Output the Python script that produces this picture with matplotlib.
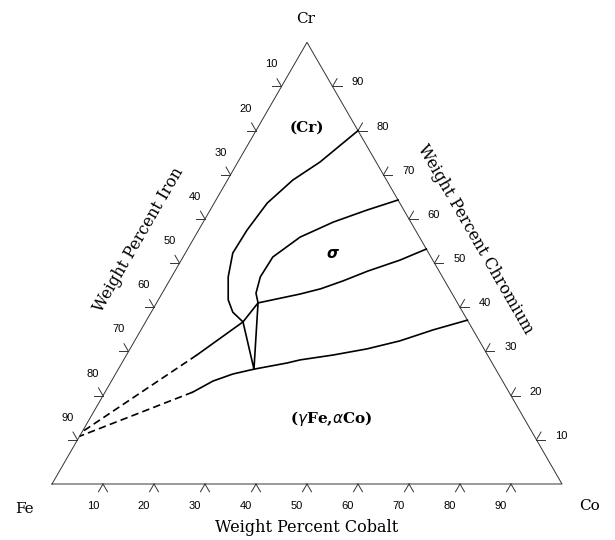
import numpy as np
import matplotlib.pyplot as plt

# Fe-Co-Cr isotherm, values in wt% (Co, Cr); Fe = 100 - Co - Cr
ticks = [10, 20, 30, 40, 50, 60, 70, 80, 90]

# (Cr) / (Cr)+sigma boundary
a_co = [20.0, 16.1, 12.8, 10.4, 9.5, 9.3, 11.1, 13.7, 16.0, 19.1]
a_cr = [80.0, 72.9, 68.8, 63.6, 57.5, 52.3, 46.9, 41.7, 38.9, 36.7]
# sigma upper boundary
b_co = [35.7, 30.7, 25.5, 20.7, 17.6, 17.4, 18.4, 19.9]
b_cr = [64.3, 62.0, 59.3, 55.9, 51.4, 46.9, 43.2, 41.0]
# sigma lower boundary
c_co = [46.8, 42.9, 37.8, 34.1, 30.6, 27.1, 19.9]
c_cr = [53.2, 50.7, 48.2, 46.0, 44.2, 43.0, 41.0]
# (gammaFe, alphaCo) boundary
d_co = [62.9, 57.3, 52.0, 46.5, 40.5, 34.6, 32.4, 26.6]
d_cr = [37.1, 34.9, 32.4, 30.6, 29.2, 28.1, 27.4, 26.0]
# three-phase triangle corners
tri_co = [19.1, 19.9, 26.6, 19.1]
tri_cr = [36.7, 41.0, 26.0, 36.7]
# lines running to the Fe-Cr side
e_co = [19.1, 13.8]
e_cr = [36.7, 29.2]
e_dash_co = [13.8, 0.0]
e_dash_cr = [29.2, 11.8]
f_co = [26.6, 23.0, 19.9, 17.2]
f_cr = [26.0, 24.9, 23.3, 20.8]
f_dash_co = [17.2, 0.0]
f_dash_cr = [20.8, 10.8]

S = 510.0  # pixels per side
H = np.sqrt(3) / 2


def tern(co, cr):
    co = np.asarray(co, dtype=float) / 100
    cr = np.asarray(cr, dtype=float) / 100
    return co + cr / 2, cr * H


fig = plt.figure(figsize=(6.15, 5.4), dpi=100)
ax = fig.add_axes([0, 0, 1, 1])
ax.set_xlim(-52 / S, 563 / S)
ax.set_ylim(-56 / S, 484 / S)
ax.axis('off')

# triangle
x, y = tern([0, 100, 0, 0], [0, 0, 100, 0])
ax.plot(x, y, color='#333', lw=0.7)

arm = 9 / S
serif = 'DejaVu Serif'
tfont = dict(family='Liberation Sans', fontsize=8, ha='center', va='center')

for t in ticks:
    # bottom: cobalt
    px, py = tern(t, 0)
    for dx in (-0.5, 0.5):
        ax.plot([px, px + dx * arm], [py, py - H * arm], color='#333', lw=0.7)
    ax.text(px - 10 / S, py - 22 / S, str(t), **tfont)
    # left: iron
    px, py = tern(0, 100 - t)
    ax.plot([px, px - arm], [py, py], color='#333', lw=0.7)
    ax.plot([px, px - 0.5 * arm], [py, py + H * arm], color='#333', lw=0.7)
    ax.text(px - 10 / S, py + 22 / S, str(t), **tfont)
    # right: chromium
    px, py = tern(100 - t, t)
    ax.plot([px, px + arm], [py, py], color='#333', lw=0.7)
    ax.plot([px, px + 0.5 * arm], [py, py + H * arm], color='#333', lw=0.7)
    ax.text(px + 25 / S, py + 4 / S, str(t), **tfont)

# phase boundaries
for cx, cy in [(a_co, a_cr), (b_co, b_cr), (c_co, c_cr), (d_co, d_cr),
               (tri_co, tri_cr), (e_co, e_cr), (f_co, f_cr)]:
    ax.plot(*tern(cx, cy), color='black', lw=1.2, solid_joinstyle='round')
for cx, cy in [(e_dash_co, e_dash_cr), (f_dash_co, f_dash_cr)]:
    ax.plot(*tern(cx, cy), color='black', lw=1.2, linestyle=(0, (4.5, 2.5)))

# region labels
ax.text(*tern(9.7, 80.6), '(Cr)', family=serif, fontweight='bold', fontsize=11,
        ha='center', va='center')
ax.text(*tern(29.1, 52.1), r'$\boldsymbol{\sigma}$', fontsize=11, ha='center', va='center')
ax.text(*tern(47.2, 14.9), r'($\gamma$Fe,$\alpha$Co)', family=serif, fontweight='bold',
        fontsize=11, ha='center', va='center')

# vertex labels
ax.text(-28 / S, -25 / S, 'Fe', family=serif, fontsize=11, ha='center', va='center')
ax.text(538 / S, -22 / S, 'Co', family=serif, fontsize=11, ha='center', va='center')
ax.text(254 / S, 465 / S, 'Cr', family=serif, fontsize=11, ha='center', va='center')

# axis titles
ax.text(0.5, -44 / S, 'Weight Percent Cobalt', family=serif, fontsize=11.5,
        ha='center', va='center')
mx, my = tern(0, 50)
ax.text(mx - 47 / S * H, my + 47 / S * 0.5, 'Weight Percent Iron', family=serif,
        fontsize=11.5, rotation=60, rotation_mode='anchor', ha='center', va='center')
mx, my = tern(50, 50)
ax.text(mx + 47 / S * H, my + 47 / S * 0.5, 'Weight Percent Chromium', family=serif,
        fontsize=11.5, rotation=-60, rotation_mode='anchor', ha='center', va='center')

fig.savefig('out.png', dpi=100)
